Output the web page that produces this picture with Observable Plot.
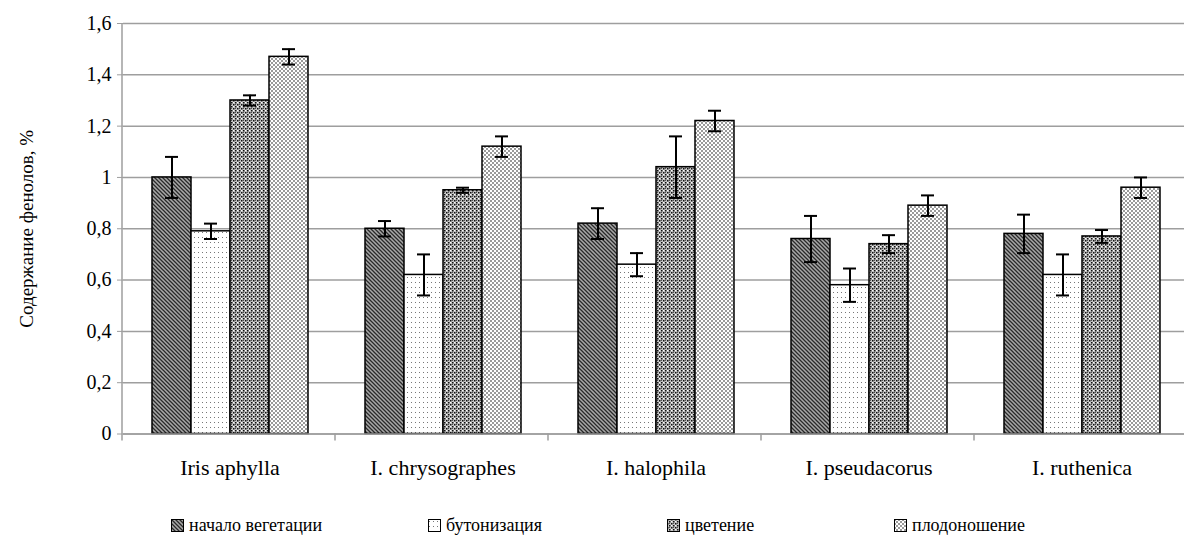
<!DOCTYPE html>
<html>
<head>
<meta charset="utf-8">
<script src="https://cdn.jsdelivr.net/npm/d3@7"></script>
<script src="https://cdn.jsdelivr.net/npm/@observablehq/plot@0.6"></script>
<style>
  html, body { margin: 0; padding: 0; background: #fff; overflow: hidden; }
  #chart { position: relative; width: 1184px; height: 542px; }
  #legend { position: absolute; left: 0; top: 0; width: 1184px; height: 542px; pointer-events: none;
            font-family: "Liberation Serif", "Times New Roman", serif; font-size: 18px; color: #000; }
  .item { position: absolute; top: 515px; display: flex; align-items: center; white-space: nowrap; line-height: 20px; }
</style>
</head>
<body>
<svg width="0" height="0" style="position:absolute">
  <defs>
    <pattern id="p1" width="4" height="4" patternUnits="userSpaceOnUse">
      <rect width="4" height="4" fill="#a8a8a8"/>
      <path d="M0,0 l4,4 M-1,3 l2,2 M3,-1 l2,2" stroke="#2a2a2a" stroke-width="1.3"/>
    </pattern>
    <pattern id="p2" width="4" height="5" patternUnits="userSpaceOnUse">
      <rect width="4" height="5" fill="#ffffff"/>
      <rect x="1" y="2" width="1" height="1" fill="#777"/>
    </pattern>
    <pattern id="p3" width="4" height="4" patternUnits="userSpaceOnUse">
      <rect width="4" height="4" fill="#c4c4c4"/>
      <rect x="0" y="0" width="1.5" height="1.5" fill="#111"/>
      <rect x="2" y="2" width="1.5" height="1.5" fill="#111"/>
      <rect x="2" y="0" width="1" height="1" fill="#555"/>
      <rect x="0" y="2" width="1" height="1" fill="#fff"/>
    </pattern>
    <pattern id="p4" width="4" height="4" patternUnits="userSpaceOnUse">
      <rect width="4" height="4" fill="#ffffff"/>
      <rect x="0" y="0" width="2" height="2" fill="#9a9a9a"/>
      <rect x="2" y="2" width="2" height="2" fill="#9a9a9a"/>
    </pattern>
  </defs>
</svg>
<div id="chart"><div id="legend"></div></div>
<script>
const species = ["Iris aphylla", "I. chrysographes", "I. halophila", "I. pseudacorus", "I. ruthenica"];
const stages = ["начало вегетации", "бутонизация", "цветение", "плодоношение"];
const startVals  = [1.00, 0.80, 0.82, 0.76, 0.78];
const budVals    = [0.79, 0.62, 0.66, 0.58, 0.62];
const flowerVals = [1.30, 0.95, 1.04, 0.74, 0.77];
const fruitVals  = [1.47, 1.12, 1.22, 0.89, 0.96];
const startErr  = [0.08, 0.03, 0.06, 0.09, 0.075];
const budErr    = [0.03, 0.08, 0.045, 0.065, 0.08];
const flowerErr = [0.02, 0.01, 0.12, 0.035, 0.025];
const fruitErr  = [0.03, 0.04, 0.04, 0.04, 0.04];
const yTicks = [0, 0.2, 0.4, 0.6, 0.8, 1, 1.2, 1.4, 1.6];
const patternFills = ["url(#p1)", "url(#p2)", "url(#p3)", "url(#p4)"];

const series = [startVals, budVals, flowerVals, fruitVals];
const errs = [startErr, budErr, flowerErr, fruitErr];
const data = [];
species.forEach((sp, i) => stages.forEach((st, j) => {
  data.push({species: sp, stage: st, value: series[j][i], err: errs[j][i]});
}));

const fmt = d => String(d).replace(".", ",");
const GRAY = "#9e9e9e";

const plot = Plot.plot({
  width: 1184,
  height: 500,
  marginLeft: 122,
  marginRight: -5,
  marginTop: 23,
  marginBottom: 66.5,
  style: {fontFamily: "Liberation Serif, Times New Roman, serif", fontSize: "20px", color: "#000", background: "#fff"},
  fx: {domain: species, padding: 0},
  x: {domain: stages, paddingInner: 0, paddingOuter: 0.71, axis: null},
  y: {domain: [0, 1.6]},
  color: {domain: stages, range: patternFills},
  marks: [
    Plot.gridY(yTicks, {stroke: GRAY, strokeOpacity: 1, strokeWidth: 1.5}),
    Plot.axisY({ticks: yTicks, tickFormat: fmt, tickSize: 6, tickPadding: 6, stroke: GRAY, strokeOpacity: 1,
      fontSize: 20, label: null}),
    Plot.axisY({ticks: [], tickSize: 0, fontSize: 19, label: "Содержание фенолов, %", labelAnchor: "center", labelArrow: "none", labelOffset: 104}),
    Plot.axisFx({anchor: "bottom", tickSize: 0, tickPadding: 25, fontSize: 22, label: null}),
    Plot.barY(data, {fx: "species", x: "stage", y: "value", fill: "stage", stroke: "#000", strokeWidth: 1.5}),
    Plot.ruleY([0], {stroke: GRAY, strokeWidth: 1.5}),
    Plot.ruleX(data, {fx: "species", x: "stage", y1: d => d.value - d.err, y2: d => d.value + d.err, stroke: "#000", strokeWidth: 2}),
    Plot.tickY(data, {fx: "species", x: "stage", y: d => d.value - d.err, stroke: "#000", strokeWidth: 2, insetLeft: 13, insetRight: 13}),
    Plot.tickY(data, {fx: "species", x: "stage", y: d => d.value + d.err, stroke: "#000", strokeWidth: 2, insetLeft: 13, insetRight: 13})
  ]
});

// axis line and category boundary ticks, positioned from the plot's own scales
const fx = plot.scale("fx");
const ys = plot.scale("y");
const y0 = ys.range[0], yTop = ys.range[1];
const x0 = fx.range[0];
const step = fx.step;
const g = d3.select(plot).append("g").attr("stroke", GRAY).attr("stroke-width", 1.5);
g.append("line").attr("x1", x0).attr("x2", x0).attr("y1", yTop).attr("y2", y0 + 7);
for (let k = 1; k <= species.length; k++) {
  const xb = x0 + k * step;
  g.append("line").attr("x1", xb).attr("x2", xb).attr("y1", y0).attr("y2", y0 + 7);
}

const chart = document.getElementById("chart");
chart.insertBefore(plot, chart.firstChild);

const legendX = [171, 428, 667, 894];
const legend = document.getElementById("legend");
stages.forEach((st, j) => {
  const item = document.createElement("div");
  item.className = "item";
  item.style.left = legendX[j] + "px";
  const sw = document.createElementNS("http://www.w3.org/2000/svg", "svg");
  sw.setAttribute("width", 13); sw.setAttribute("height", 13);
  sw.style.marginRight = "5px";
  const r = document.createElementNS("http://www.w3.org/2000/svg", "rect");
  r.setAttribute("x", 0.5); r.setAttribute("y", 0.5); r.setAttribute("width", 12); r.setAttribute("height", 12);
  r.setAttribute("fill", patternFills[j]); r.setAttribute("stroke", "#000"); r.setAttribute("stroke-width", 1);
  sw.appendChild(r);
  item.appendChild(sw);
  const t = document.createElement("span");
  t.textContent = st;
  item.appendChild(t);
  legend.appendChild(item);
});
</script>
</body>
</html>
